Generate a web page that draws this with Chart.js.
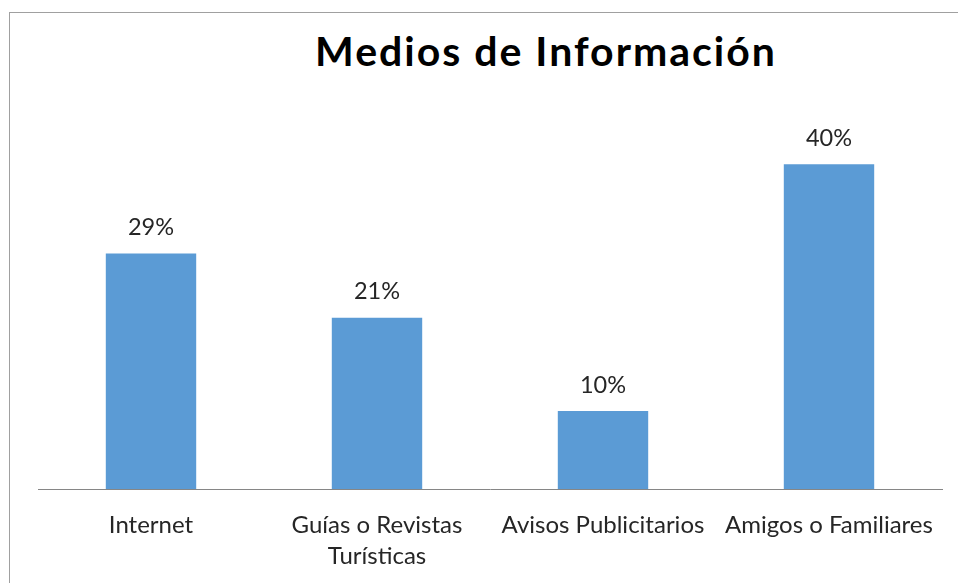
<!DOCTYPE html>
<html>
<head>
<meta charset="utf-8">
<title>Medios de Información</title>
<script src="https://cdn.jsdelivr.net/npm/chart.js@4"></script>
<style>
    html, body { margin: 0; padding: 0; background: #ffffff; overflow: hidden; }
    #frame { position: absolute; left: 9px; top: 12px; width: 1200px; height: 1200px; border: 1px solid #a0a0a0; }
    #title {
        position: absolute; left: 546px; top: 26px; transform: translateX(-50%);
        margin: 0; white-space: nowrap; letter-spacing: 2px;
        font: bold 41px Lato, "Open Sans", sans-serif; color: #000000;
    }
    #wrap { position: absolute; left: 0; top: 0; width: 958px; height: 583px; }
</style>
</head>
<body>
<div id="frame"></div>
<h1 id="title">Medios de Información</h1>
<div id="wrap"><canvas id="chart"></canvas></div>

<script>
/* =====================================
   Data
===================================== */
const categories = ["Internet", ["Guías o Revistas", "Turísticas"], "Avisos Publicitarios", "Amigos o Familiares"];
const shares = [29, 21.1, 9.6, 40];
const yMin = 0;
const yMax = 50;

const barColor = "#5B9BD5";
const textFont = "Lato, 'Open Sans', sans-serif";


/* =====================================
   Value labels above the bars
===================================== */
const valueLabels = {
    id: "valueLabels",
    afterDatasetsDraw(chart) {
        const ctx = chart.ctx;
        const meta = chart.getDatasetMeta(0);
        ctx.save();
        ctx.font = "23.5px " + textFont;
        ctx.fillStyle = "#262626";
        ctx.textAlign = "center";
        ctx.textBaseline = "middle";
        meta.data.forEach((bar, i) => {
            ctx.fillText(Math.round(shares[i]) + "%", bar.x, bar.y - 26);
        });
        ctx.restore();
    }
};


/* =====================================
   Chart
===================================== */
new Chart(document.getElementById("chart"), {
    type: "bar",
    data: {
        labels: categories,
        datasets: [{
            data: shares,
            backgroundColor: barColor,
            borderWidth: 0,
            categoryPercentage: 1,
            barPercentage: 0.4
        }]
    },
    options: {
        responsive: true,
        maintainAspectRatio: false,
        animation: false,
        layout: { padding: { left: 38, right: 16, top: 83, bottom: 0 } },
        plugins: {
            legend: { display: false },
            tooltip: { enabled: false }
        },
        scales: {
            x: {
                grid: { display: false, drawTicks: false },
                border: { display: true, color: "#868686", width: 1 },
                ticks: {
                    color: "#262626",
                    padding: 21,
                    maxRotation: 0,
                    autoSkip: false,
                    font: { family: textFont, size: 24, lineHeight: 1.29 }
                },
                afterFit: function (scale) { scale.height = 94; }
            },
            y: {
                display: false,
                min: yMin,
                max: yMax
            }
        }
    },
    plugins: [valueLabels]
});
</script>
</body>
</html>
